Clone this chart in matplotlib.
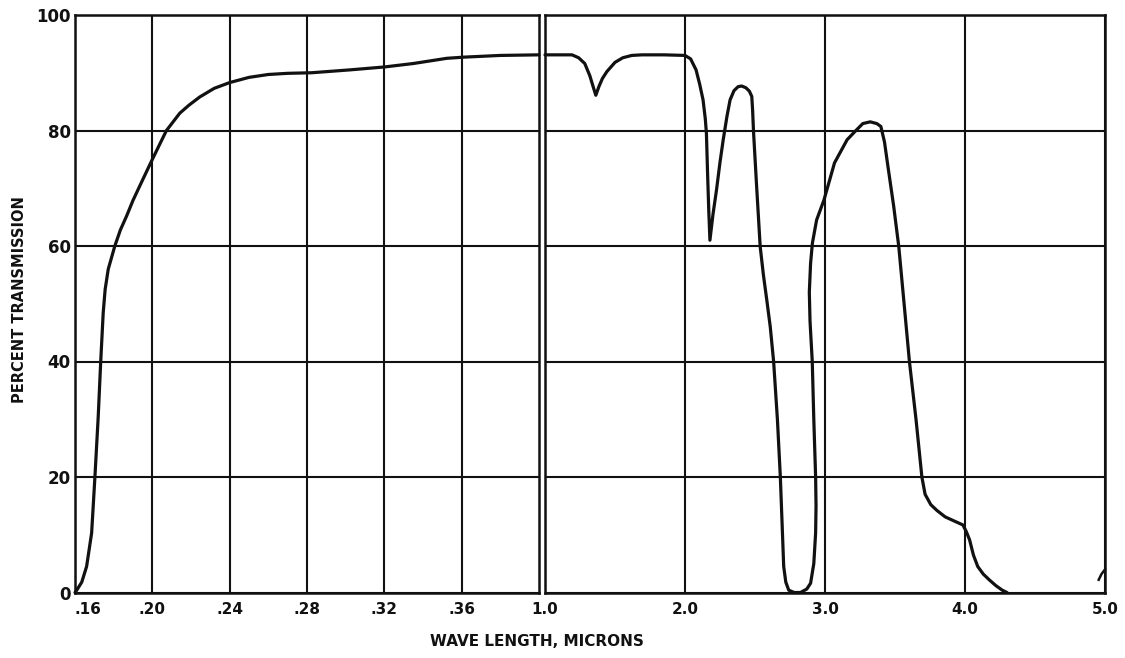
import matplotlib
matplotlib.use("Agg")
import matplotlib.pyplot as plt

# ---- data ----
# UV panel: wavelength (microns) vs percent transmission
uv_wl = [0.1600, 0.1609, 0.1635, 0.1660, 0.1686, 0.1703, 0.1720, 0.1733, 0.1746, 0.1756,
         0.1772, 0.1806, 0.1835, 0.1867, 0.1900, 0.1935, 0.2000, 0.2073, 0.2142, 0.2190,
         0.2245, 0.2320, 0.2400, 0.2500, 0.2600, 0.2700, 0.2824, 0.3023, 0.3200, 0.3350,
         0.3523, 0.3610, 0.3800, 0.4000]
uv_t = [0.0, 0.4, 1.8, 4.5, 10.3, 20.0, 30.4, 40.0, 48.5, 52.5,
        56.0, 60.0, 62.8, 65.2, 67.9, 70.4, 75.0, 80.0, 83.0, 84.4,
        85.8, 87.3, 88.3, 89.2, 89.7, 89.9, 90.0, 90.5, 91.0, 91.6,
        92.5, 92.7, 93.0, 93.1]

# IR panel: wavelength (microns) vs percent transmission
ir_wl = [1.000, 1.100, 1.193, 1.240, 1.284, 1.320, 1.345, 1.363, 1.385, 1.410,
         1.442, 1.500, 1.556, 1.620, 1.692, 1.850, 2.000, 2.040, 2.079, 2.105,
         2.129, 2.145, 2.153, 2.162, 2.170, 2.178, 2.200, 2.225, 2.250, 2.273,
         2.300, 2.322, 2.350, 2.380, 2.405, 2.435, 2.460, 2.477, 2.483, 2.489,
         2.510, 2.537, 2.560, 2.585, 2.609, 2.633, 2.660, 2.681, 2.695, 2.705,
         2.720, 2.741, 2.780, 2.825, 2.870, 2.897, 2.920, 2.933, 2.936, 2.933,
         2.920, 2.909, 2.893, 2.888, 2.897, 2.910, 2.940, 2.993, 3.068, 3.158,
         3.221, 3.270, 3.323, 3.370, 3.399, 3.425, 3.450, 3.490, 3.527, 3.565,
         3.603, 3.650, 3.692, 3.715, 3.756, 3.800, 3.858, 3.930, 3.985, 4.010,
         4.033, 4.060, 4.091, 4.130, 4.173, 4.220, 4.266, 4.300]
ir_t = [93.1, 93.1, 93.1, 92.6, 91.6, 89.5, 87.5, 86.1, 87.6, 89.0,
        90.2, 91.8, 92.6, 93.0, 93.1, 93.1, 93.0, 92.4, 90.5, 88.0,
        85.3, 82.0, 79.5, 72.0, 66.0, 61.0, 65.5, 69.7, 74.5, 78.4,
        82.5, 85.3, 86.9, 87.6, 87.7, 87.4, 86.8, 85.9, 83.5, 80.0,
        71.0, 59.9, 55.0, 50.5, 46.0, 40.0, 30.0, 20.0, 11.0, 4.5,
        1.8, 0.4, 0.0, 0.0, 0.6, 1.6, 5.0, 10.3, 15.0, 20.0,
        30.0, 40.0, 47.0, 52.0, 57.0, 60.5, 64.5, 68.0, 74.4, 78.4,
        80.0, 81.2, 81.5, 81.2, 80.7, 78.0, 73.7, 67.0, 59.9, 50.0,
        40.0, 30.0, 20.0, 17.0, 15.2, 14.2, 13.1, 12.3, 11.7, 10.5,
        9.1, 6.5, 4.5, 3.2, 2.2, 1.2, 0.4, 0.0]

# small stroke at the right edge
tail_wl = [4.955, 4.975, 5.000]
tail_t = [2.2, 3.2, 4.0]

uv_ticks = [0.16, 0.20, 0.24, 0.28, 0.32, 0.36]
uv_labels = [".16", ".20", ".24", ".28", ".32", ".36"]
ir_ticks = [1.0, 2.0, 3.0, 4.0, 5.0]
ir_labels = ["1.0", "2.0", "3.0", "4.0", "5.0"]
y_ticks = [0, 20, 40, 60, 80, 100]
y_labels = ["0", "20", "40", "60", "80", "100"]

W, H = 1125, 658
fig = plt.figure(figsize=(W / 100, H / 100), dpi=100)
fig.patch.set_facecolor("white")

INK = "#111111"
font = dict(family="DejaVu Sans", fontweight="bold", color=INK)


def px_axes(x0, x1, y0, y1):
    return fig.add_axes([x0 / W, (H - y1) / H, (x1 - x0) / W, (y1 - y0) / H])


ax1 = px_axes(75, 539, 15, 592.5)
ax2 = px_axes(545, 1105, 15, 592.5)

for ax in (ax1, ax2):
    ax.set_ylim(0, 100)
    ax.set_yticks(y_ticks)
    ax.grid(True, color=INK, linewidth=1.5)
    ax.set_axisbelow(True)
    for s in ax.spines.values():
        s.set_linewidth(1.8)
        s.set_color(INK)
    ax.tick_params(length=0, pad=7, labelsize=11)

ax1.set_xlim(0.16, 0.40)
ax1.set_xticks(uv_ticks)
ax1.set_xticklabels(uv_labels, **font)
ax1.get_xticklabels()[0].set_horizontalalignment("left")
ax1.set_yticklabels(y_labels, **font)
ax1.tick_params(axis="y", pad=3, labelsize=12)

ax2.set_xlim(1.0, 5.0)
ax2.set_xticks(ir_ticks)
ax2.set_xticklabels(ir_labels, **font)
ax2.set_yticklabels([])

ax1.plot(uv_wl, uv_t, color=INK, linewidth=2.3, solid_joinstyle="round",
         solid_capstyle="round", clip_on=False)
ax2.plot(ir_wl, ir_t, color=INK, linewidth=2.3, solid_joinstyle="round",
         solid_capstyle="round", clip_on=False)
ax2.plot(tail_wl, tail_t, color=INK, linewidth=1.8, clip_on=False)

fig.text(20 / W, 1 - 300 / H, "PERCENT TRANSMISSION", rotation=90, ha="center", va="center",
         fontsize=10.5, **font)
fig.text(537 / W, 1 - 641 / H, "WAVE LENGTH, MICRONS", ha="center", va="center",
         fontsize=11, **font)

fig.savefig("out.png", dpi=100, facecolor="white")
